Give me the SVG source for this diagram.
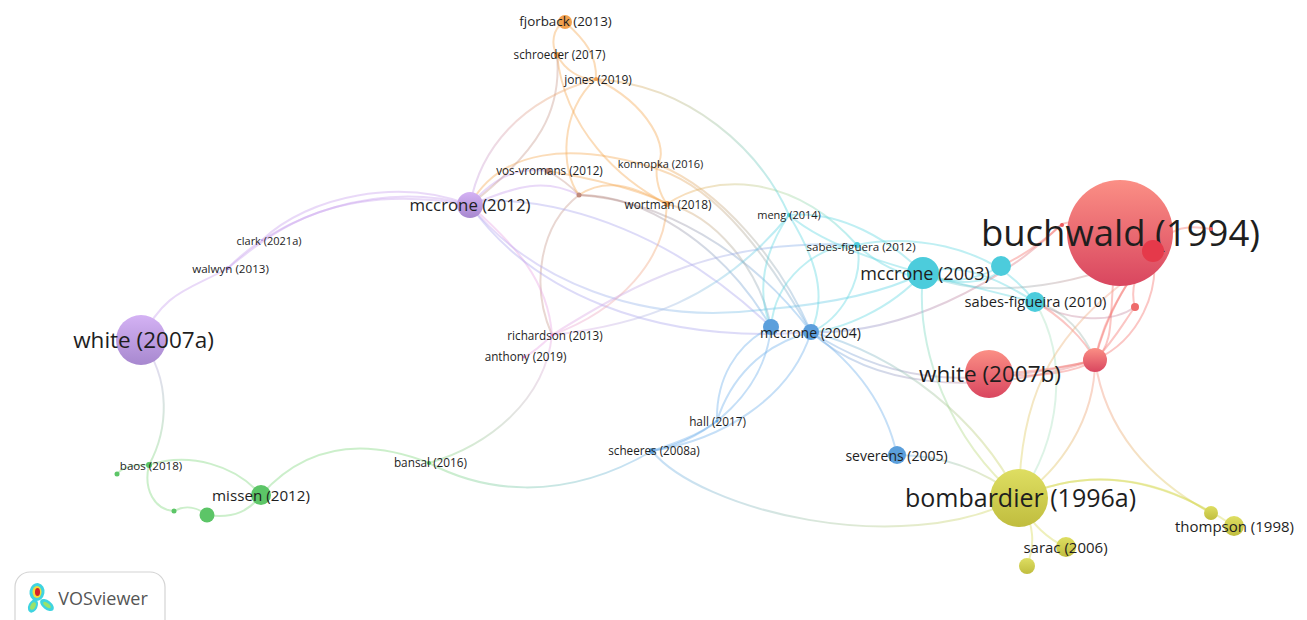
<svg xmlns="http://www.w3.org/2000/svg" width="1307" height="620" viewBox="0 0 1307 620">
<style>
text{font-family:"Open Sans","Noto Sans","DejaVu Sans",sans-serif;fill:#1e1e1e;text-anchor:middle;dominant-baseline:central}
#edges path{fill:none;stroke-width:2;stroke-opacity:.4;stroke-linecap:round}
.pu{stroke:#c9a0ee}.pk{stroke:#e9a6e3}.lv{stroke:#a9a4ee}.gr{stroke:#7fd67c}.bl{stroke:#6fb0ea}.cy{stroke:#5fd8e2}.or{stroke:#f5a850}.rd{stroke:#f4716c}.sm{stroke:#f5a58c}.ye{stroke:#d8d955}.br{stroke:#c99a8e}.tn{stroke:#b3a88e}.mv{stroke:#c78ca2}.gy{stroke:#9fb8b0}.yg{stroke:#bfe08f}.tg{stroke:#a9e0c0}.yo{stroke:#ecc46a}
.nrd{fill:url(#grd)}.ncy{fill:#4cccdc}.nbl{fill:#5b9fdc}.nye{fill:url(#gye)}.npu{fill:url(#gpu)}.ngr{fill:#5cc567}.nor{fill:#f2a14f}.nbr{fill:#c08a7c}.npk{fill:#e48ad8}
</style>
<defs>
<linearGradient id="grd" x1="0" y1="0" x2="0" y2="1"><stop offset="0" stop-color="#fb8f85"/><stop offset="1" stop-color="#d9465f"/></linearGradient>
<linearGradient id="gye" x1="0" y1="0" x2="0" y2="1"><stop offset="0" stop-color="#dede62"/><stop offset="1" stop-color="#c0bd3e"/></linearGradient>
<linearGradient id="gpu" x1="0" y1="0" x2="0" y2="1"><stop offset="0" stop-color="#d4b2f4"/><stop offset="1" stop-color="#a788cf"/></linearGradient>
<linearGradient id="e1" gradientUnits="userSpaceOnUse" x1="596" y1="79" x2="789" y2="215"><stop offset="0" stop-color="#f5a850"/><stop offset="1" stop-color="#4fd6e2"/></linearGradient>
<linearGradient id="e2" gradientUnits="userSpaceOnUse" x1="470" y1="205" x2="923" y2="273"><stop offset="0" stop-color="#c39ef0"/><stop offset="1" stop-color="#4fd6e2"/></linearGradient>
<linearGradient id="e3" gradientUnits="userSpaceOnUse" x1="652" y1="451" x2="1019" y2="498"><stop offset="0" stop-color="#6fb0ea"/><stop offset="1" stop-color="#d8d955"/></linearGradient>
<linearGradient id="e4" gradientUnits="userSpaceOnUse" x1="429" y1="463" x2="652" y2="451"><stop offset="0" stop-color="#7fd67c"/><stop offset="1" stop-color="#6fb0ea"/></linearGradient>
<linearGradient id="e5" gradientUnits="userSpaceOnUse" x1="429" y1="463" x2="552" y2="335"><stop offset="0" stop-color="#7fd67c"/><stop offset="1" stop-color="#e9a6e3"/></linearGradient>
<linearGradient id="e6" gradientUnits="userSpaceOnUse" x1="667" y1="204" x2="857" y2="245"><stop offset="0" stop-color="#f5a850"/><stop offset=".6" stop-color="#a8d8a0"/><stop offset="1" stop-color="#4fd6e2"/></linearGradient>
<linearGradient id="e7" gradientUnits="userSpaceOnUse" x1="552" y1="335" x2="857" y2="245"><stop offset="0" stop-color="#e9a6e3"/><stop offset="1" stop-color="#6fb0ea"/></linearGradient>
<linearGradient id="e8" gradientUnits="userSpaceOnUse" x1="552" y1="335" x2="789" y2="215"><stop offset="0" stop-color="#e9a6e3"/><stop offset="1" stop-color="#4fd6e2"/></linearGradient>
<linearGradient id="e9" gradientUnits="userSpaceOnUse" x1="667" y1="204" x2="552" y2="335"><stop offset="0" stop-color="#f5a850"/><stop offset="1" stop-color="#e9a6e3"/></linearGradient>
<linearGradient id="e10" gradientUnits="userSpaceOnUse" x1="811" y1="332" x2="1062" y2="224"><stop offset="0" stop-color="#7f9fe0"/><stop offset="1" stop-color="#f4716c"/></linearGradient>
<linearGradient id="e11" gradientUnits="userSpaceOnUse" x1="811" y1="332" x2="1095" y2="360"><stop offset="0" stop-color="#6fb0ea"/><stop offset="1" stop-color="#f4716c"/></linearGradient>
<linearGradient id="e12" gradientUnits="userSpaceOnUse" x1="923" y1="273" x2="1153" y2="251"><stop offset="0" stop-color="#5fd8e2"/><stop offset="1" stop-color="#f4716c"/></linearGradient>
<linearGradient id="e13" gradientUnits="userSpaceOnUse" x1="1019" y1="498" x2="1120" y2="285"><stop offset="0" stop-color="#d8d955"/><stop offset="1" stop-color="#f5a08a"/></linearGradient>
<linearGradient id="e14" gradientUnits="userSpaceOnUse" x1="1095" y1="360" x2="1211" y2="513"><stop offset="0" stop-color="#f58b80"/><stop offset="1" stop-color="#d8d955"/></linearGradient>
<linearGradient id="e15" gradientUnits="userSpaceOnUse" x1="1095" y1="360" x2="1019" y2="498"><stop offset="0" stop-color="#f58b80"/><stop offset="1" stop-color="#d8d955"/></linearGradient>
<linearGradient id="e16" gradientUnits="userSpaceOnUse" x1="923" y1="273" x2="1019" y2="498"><stop offset="0" stop-color="#5fd8e2"/><stop offset="1" stop-color="#d8d955"/></linearGradient>
<linearGradient id="e17" gradientUnits="userSpaceOnUse" x1="811" y1="332" x2="1019" y2="498"><stop offset="0" stop-color="#6fb0ea"/><stop offset="1" stop-color="#d8d955"/></linearGradient>
<linearGradient id="e18" gradientUnits="userSpaceOnUse" x1="897" y1="455" x2="1019" y2="498"><stop offset="0" stop-color="#6fb0ea"/><stop offset="1" stop-color="#d8d955"/></linearGradient>
<linearGradient id="e19" gradientUnits="userSpaceOnUse" x1="141" y1="340" x2="149" y2="465"><stop offset="0" stop-color="#c39ef0"/><stop offset="1" stop-color="#7fd67c"/></linearGradient>
<linearGradient id="e20" gradientUnits="userSpaceOnUse" x1="470" y1="205" x2="596" y2="79"><stop offset="0" stop-color="#c39ef0"/><stop offset="1" stop-color="#f5a850"/></linearGradient>
<linearGradient id="e21" gradientUnits="userSpaceOnUse" x1="659" y1="165" x2="811" y2="332"><stop offset="0" stop-color="#f5a850"/><stop offset="1" stop-color="#6fb0ea"/></linearGradient>
<linearGradient id="e22" gradientUnits="userSpaceOnUse" x1="579" y1="195" x2="771" y2="327"><stop offset="0" stop-color="#c08a7c"/><stop offset="1" stop-color="#6fb0ea"/></linearGradient>
</defs>
<g id="edges">
<path class="pu" d="M141,340C165,290 190,290 228,268C270,235 330,180 470,205"/>
<path class="pu" d="M228,268C280,215 380,180 470,205"/>
<path class="pu" d="M262,240C310,195 400,178 470,205"/>
<path stroke="url(#e19)" d="M141,340C172,380 168,430 149,465"/>
<path class="gr" d="M149,465C143,490 155,510 174,511"/>
<path class="gr" d="M174,511C185,505 197,507 207,515"/>
<path class="gr" d="M149,465C190,452 235,465 261,495"/>
<path class="gr" d="M117,474C125,465 135,465 149,465"/>
<path class="gr" d="M207,515C235,519 250,510 261,495"/>
<path class="gr" d="M261,495C310,440 370,440 429,463"/>
<path stroke="url(#e4)" d="M429,463C480,490 560,505 652,451"/>
<path stroke="url(#e5)" d="M429,463C490,445 545,400 552,335"/>
<path class="br" d="M579,195C540,225 530,285 552,335"/>
<path class="pk" d="M524,357C535,352 545,342 552,335"/>
<path class="pk" d="M470,205C515,245 548,280 552,335"/>
<path class="lv" d="M470,201C570,195 680,240 771,327"/>
<path stroke="url(#e2)" d="M470,205C530,280 640,325 760,310C820,305 880,295 923,273"/>
<path class="lv" d="M470,205C530,290 650,345 811,332"/>
<path class="pu" d="M470,205C500,172 520,168 548,171"/>
<path class="pu" d="M470,205C510,190 540,175 579,195"/>
<path stroke="url(#e21)" d="M470,205C500,150 570,140 660,170C720,190 770,260 811,332"/>
<path class="br" d="M548,171C560,178 570,185 579,195"/>
<path stroke="url(#e22)" d="M579,195C640,195 720,240 771,327"/>
<path stroke="url(#e22)" d="M579,195C660,200 750,250 811,332"/>
<path stroke="url(#e21)" d="M667,204C715,215 760,270 771,327"/>
<path stroke="url(#e21)" d="M659,165C720,190 780,260 811,332"/>
<path class="or" d="M579,195C610,175 640,190 667,204"/>
<path class="or" d="M548,171C590,178 640,190 667,204"/>
<path class="or" d="M565,22C552,28 551,45 557,55"/>
<path class="or" d="M565,22C585,40 597,55 596,79"/>
<path class="or" d="M557,55C565,70 580,80 596,79"/>
<path class="or" d="M557,55C565,130 620,180 667,204"/>
<path class="br" d="M557,55C562,110 540,150 470,205"/>
<path stroke="url(#e20)" d="M596,79C520,100 480,150 470,205"/>
<path class="or" d="M596,79C560,110 560,170 579,195"/>
<path class="or" d="M596,79C650,105 670,150 657,165C655,180 660,195 667,204"/>
<path stroke="url(#e9)" d="M667,204C665,260 620,310 552,335"/>
<path stroke="url(#e6)" d="M667,204C710,175 790,170 857,245"/>
<path stroke="url(#e1)" d="M596,79C690,85 760,150 789,215"/>
<path stroke="url(#e7)" d="M552,335C640,280 720,238 857,245"/>
<path stroke="url(#e8)" d="M552,335C640,325 720,300 789,215"/>
<path class="cy" d="M789,215C810,250 830,290 811,332"/>
<path class="cy" d="M789,215C765,250 755,290 771,327"/>
<path class="cy" d="M789,215C840,210 890,240 923,273"/>
<path class="cy" d="M789,215C830,250 900,270 1035,302"/>
<path class="cy" d="M857,245C865,280 840,320 811,332"/>
<path class="cy" d="M857,245C815,245 775,280 771,327"/>
<path class="cy" d="M857,245C900,235 990,240 1035,302"/>
<path class="cy" d="M857,245C900,285 960,290 1001,266"/>
<path class="cy" d="M923,273C960,260 1000,280 1035,302"/>
<path class="cy" d="M923,273C890,310 840,330 811,332"/>
<path class="cy" d="M923,273C960,290 1000,280 1001,266"/>
<path class="bl" d="M717,421C716,380 735,345 771,327"/>
<path class="bl" d="M717,421C730,380 760,345 811,332"/>
<path class="bl" d="M652,451C710,440 765,390 771,327"/>
<path class="bl" d="M652,451C720,440 790,400 811,332"/>
<path class="bl" d="M652,451C670,445 700,435 717,421"/>
<path class="bl" d="M811,332C850,360 885,400 897,455"/>
<path stroke="url(#e10)" d="M811,332C900,335 1000,285 1062,224"/>
<path stroke="url(#e11)" d="M811,332C880,375 950,395 1095,360"/>
<path stroke="url(#e11)" d="M811,332C870,385 970,400 1095,360"/>
<path stroke="url(#e12)" d="M923,273C980,300 1070,290 1153,251"/>
<path class="rd" d="M1001,266C1025,255 1045,240 1062,224"/>
<path class="rd" d="M989,374C1040,380 1080,370 1095,360"/>
<path class="rd" d="M989,374C1040,372 1075,365 1095,360"/>
<path class="rd" d="M1095,360C1105,320 1125,280 1153,251"/>
<path class="rd" d="M1095,360C1140,340 1160,290 1153,251"/>
<path class="rd" d="M1095,360C1105,310 1135,270 1153,251"/>
<path class="rd" d="M1095,360C1120,340 1105,300 1120,233"/>
<path class="rd" d="M1095,360C1115,340 1125,320 1135,307"/>
<path class="rd" d="M1135,307C1130,290 1135,270 1153,251"/>
<path class="rd" d="M1153,251C1170,225 1190,225 1211,229"/>
<path class="rd" d="M1153,251C1130,225 1090,215 1062,224"/>
<path class="mv" d="M1035,302C1065,320 1110,325 1135,307"/>
<path class="rd" d="M1035,302C1060,315 1085,340 1095,360"/>
<path class="gy" d="M1035,302C1065,310 1085,335 1095,360"/>
<path stroke="url(#e16)" d="M923,273C915,350 950,440 1019,498"/>
<path class="tg" d="M1035,302C1070,360 1060,440 1019,498"/>
<path stroke="url(#e13)" d="M1019,498C1020,400 1050,340 1120,285"/>
<path stroke="url(#e17)" d="M811,332C900,355 980,420 1019,498"/>
<path stroke="url(#e15)" d="M1095,360C1095,420 1060,470 1019,498"/>
<path stroke="url(#e14)" d="M1095,360C1105,430 1150,480 1211,513"/>
<path stroke="url(#e18)" d="M897,455C950,455 990,475 1019,498"/>
<path class="ye" d="M1019,498C1080,470 1150,470 1234,526"/>
<path class="ye" d="M1019,498C1090,465 1160,480 1211,513"/>
<path class="ye" d="M1019,498C1030,525 1050,540 1066,547"/>
<path class="ye" d="M1019,498C1035,525 1035,545 1027,566"/>
<path stroke="url(#e3)" d="M652,451C700,510 900,560 1019,498"/>
</g>
<g id="n-buchwald-1994"><circle class="nrd" cx="1120" cy="233" r="53"/><text x="1120.500" y="232" font-size="36.500">buchwald (1994)</text></g>
<g id="n-red-a"><circle cx="1153" cy="251" r="11" fill="#e5394a"/></g>
<g id="n-red-b"><circle cx="1135" cy="307" r="4" fill="#ee6a6a"/></g>
<g id="n-red-c"><circle class="nrd" cx="1095" cy="360" r="12"/></g>
<g id="n-red-d"><circle cx="1062" cy="225" r="2" fill="#ee5a5e"/></g>
<g id="n-red-e"><circle cx="1211" cy="229" r="2" fill="#ee5a5e"/></g>
<g id="n-white-2007b"><circle class="nrd" cx="989" cy="374" r="24"/><text x="990" y="373" font-size="22.500">white (2007b)</text></g>
<g id="n-mccrone-2003"><circle class="ncy" cx="923" cy="273" r="16"/><text x="925" y="273" font-size="18">mccrone (2003)</text></g>
<g id="n-cyan-a"><circle class="ncy" cx="1001" cy="266" r="10"/></g>
<g id="n-sabes-2010"><circle class="ncy" cx="1035" cy="302" r="10"/><text x="1035.500" y="301" font-size="14.700">sabes-figueira (2010)</text></g>
<g id="n-meng-2014"><circle class="ncy" cx="789" cy="215" r="2"/><text x="789" y="214" font-size="11">meng (2014)</text></g>
<g id="n-sabes-2012"><circle class="ncy" cx="857" cy="245" r="3"/><text x="861" y="246" font-size="11.600">sabes-figuera (2012)</text></g>
<g id="n-blue-a"><circle class="nbl" cx="771" cy="327" r="8"/></g>
<g id="n-mccrone-2004"><circle class="nbl" cx="811" cy="332" r="8"/><text x="810.500" y="332" font-size="14">mccrone (2004)</text></g>
<g id="n-severens-2005"><circle class="nbl" cx="897" cy="455" r="9"/><text x="896.500" y="455" font-size="14">severens (2005)</text></g>
<g id="n-hall-2017"><circle class="nbl" cx="717" cy="421" r="1.500"/><text x="717.500" y="421" font-size="11.800">hall (2017)</text></g>
<g id="n-scheeres-2008a"><circle class="nbl" cx="652" cy="451" r="3"/><text x="654" y="450" font-size="11.700">scheeres (2008a)</text></g>
<g id="n-bombardier-1996a"><circle class="nye" cx="1019" cy="498" r="29"/><text x="1020.500" y="497" font-size="25">bombardier (1996a)</text></g>
<g id="n-sarac-2006"><circle class="nye" cx="1066" cy="547" r="10"/><text x="1065.500" y="547" font-size="15">sarac (2006)</text></g>
<g id="n-yellow-a"><circle class="nye" cx="1027" cy="566" r="8"/></g>
<g id="n-yellow-b"><circle class="nye" cx="1211" cy="513" r="7"/></g>
<g id="n-thompson-1998"><circle class="nye" cx="1234" cy="526" r="10"/><text x="1234.500" y="526" font-size="15">thompson (1998)</text></g>
<g id="n-white-2007a"><circle class="npu" cx="141" cy="340" r="25"/><text x="143.500" y="339" font-size="22.500">white (2007a)</text></g>
<g id="n-mccrone-2012"><circle class="npu" cx="470" cy="205" r="13"/><text x="470" y="204" font-size="16.800">mccrone (2012)</text></g>
<g id="n-clark-2021a"><circle class="npu" cx="262" cy="240" r="1"/><text x="269" y="240" font-size="11">clark (2021a)</text></g>
<g id="n-walwyn-2013"><circle class="npu" cx="228" cy="268" r="2"/><text x="230.500" y="268" font-size="11.600">walwyn (2013)</text></g>
<g id="n-missen-2012"><circle class="ngr" cx="261" cy="495" r="10"/><text x="261" y="495" font-size="15.200">missen (2012)</text></g>
<g id="n-green-a"><circle class="ngr" cx="207" cy="515" r="7.500"/></g>
<g id="n-green-b"><circle class="ngr" cx="174" cy="511" r="2.500"/></g>
<g id="n-baos-2018"><circle class="ngr" cx="149" cy="465" r="3"/><text x="151" y="465" font-size="11.600">baos (2018)</text></g>
<g id="n-green-c"><circle class="ngr" cx="117" cy="474" r="2.500"/></g>
<g id="n-bansal-2016"><circle class="ngr" cx="429" cy="463" r="2"/><text x="430.500" y="462" font-size="11.800">bansal (2016)</text></g>
<g id="n-fjorback-2013"><circle class="nor" cx="565" cy="22" r="7"/><text x="565.500" y="21" font-size="13.400">fjorback (2013)</text></g>
<g id="n-schroeder-2017"><circle class="nor" cx="557" cy="55" r="3"/><text x="559.500" y="54" font-size="11.700">schroeder (2017)</text></g>
<g id="n-jones-2019"><circle class="nor" cx="596" cy="79" r="2"/><text x="598" y="79" font-size="12">jones (2019)</text></g>
<g id="n-wortman-2018"><circle class="nor" cx="667" cy="204" r="3"/><text x="668" y="204" font-size="11.800">wortman (2018)</text></g>
<g id="n-konnopka-2016"><circle class="nor" cx="659" cy="165" r="1.500"/><text x="660.500" y="163" font-size="11">konnopka (2016)</text></g>
<g id="n-vos-vromans-2012"><circle class="nbr" cx="548" cy="171" r="3"/><text x="549.500" y="170" font-size="11.700">vos-vromans (2012)</text></g>
<g id="n-brown-a"><circle class="nbr" cx="579" cy="195" r="2.500"/></g>
<g id="n-richardson-2013"><circle class="npk" cx="552" cy="335" r="1.500"/><text x="555" y="335" font-size="11.700">richardson (2013)</text></g>
<g id="n-anthony-2019"><circle class="npk" cx="524" cy="357" r="1.500"/><text x="525.500" y="356" font-size="11.700">anthony (2019)</text></g>
<g id="logo">
<rect x="15" y="572" width="150" height="70" rx="15" fill="#fff" stroke="#d4d4d4" stroke-width="1.200"/>
<ellipse cx="37" cy="592" rx="7.500" ry="9" fill="#3fd4e0" transform="rotate(10 37 592)"/>
<ellipse cx="33" cy="606" rx="4.500" ry="7" fill="#3fd4e0" transform="rotate(25 33 606)"/>
<ellipse cx="47" cy="605" rx="8" ry="4.500" fill="#3fd4e0" transform="rotate(38 47 605)"/>
<ellipse cx="33" cy="606" rx="2.500" ry="4" fill="#9be26a" transform="rotate(25 33 606)"/>
<ellipse cx="47" cy="605" rx="4.500" ry="2" fill="#9be26a" transform="rotate(38 47 605)"/>
<ellipse cx="37" cy="592" rx="4.500" ry="6" fill="#f2dc3c"/>
<ellipse cx="37.500" cy="592" rx="2.500" ry="4" fill="#d4202a"/>
<text x="103" y="598" font-size="18" style="fill:#555">VOSviewer</text>
</g>
</svg>
